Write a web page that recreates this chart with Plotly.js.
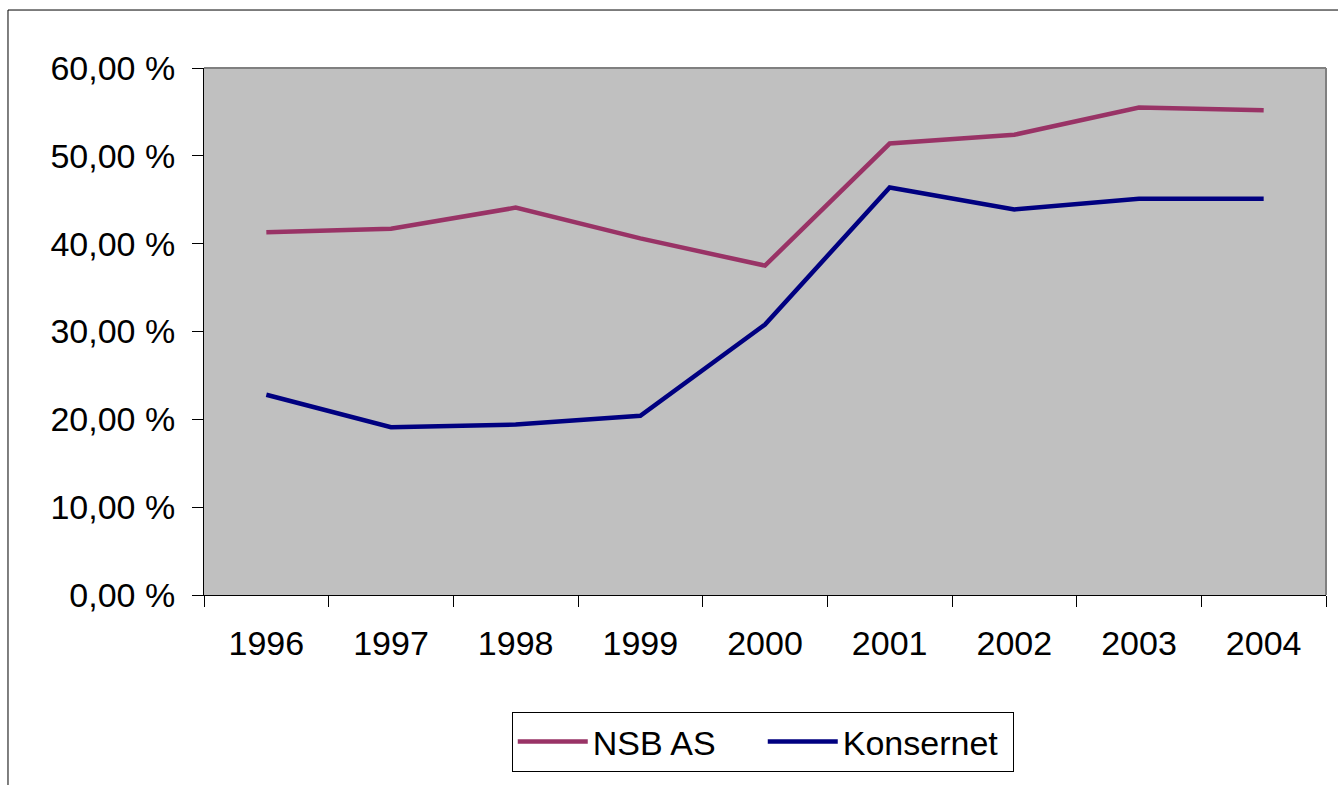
<!DOCTYPE html>
<html>
<head>
<meta charset="utf-8">
<script src="https://cdn.plot.ly/plotly-3.0.1.min.js"></script>
<style>html,body{margin:0;padding:0;background:#fff;}#chart{width:1338px;height:785px;}</style>
</head>
<body>
<div id="chart"></div>
<script>
const years = ['1996','1997','1998','1999','2000','2001','2002','2003','2004'];
const nsbAS = [41.3, 41.7, 44.1, 40.6, 37.5, 51.4, 52.4, 55.5, 55.2];
const konsernet = [22.8, 19.1, 19.4, 20.4, 30.8, 46.4, 43.9, 45.1, 45.1];
const yTickVals = [0, 10, 20, 30, 40, 50, 60];
const yTickText = ['0,00 %', '10,00 %', '20,00 %', '30,00 %', '40,00 %', '50,00 %', '60,00 %'];

const font = {family: 'Liberation Sans, Arial, sans-serif', size: 34, color: '#000'};

const traces = [
  {x: years, y: nsbAS, name: 'NSB AS', type: 'scatter', mode: 'lines',
   line: {color: '#993366', width: 4.5}},
  {x: years, y: konsernet, name: 'Konsernet', type: 'scatter', mode: 'lines',
   line: {color: '#000080', width: 4.5}}
];

const layout = {
  width: 1338, height: 785,
  margin: {l: 204, r: 12, t: 68, b: 190, pad: 0},
  paper_bgcolor: '#ffffff',
  plot_bgcolor: '#C0C0C0',
  font: font,
  showlegend: true,
  xaxis: {
    type: 'category', range: [-0.5, 8.5], tickson: 'boundaries',
    ticks: 'outside', ticklen: 11, tickcolor: '#000', tickwidth: 1,
    showgrid: false, zeroline: false, showline: true, linecolor: '#000', linewidth: 1,
    ticklabelstandoff: 18, tickfont: font, fixedrange: true
  },
  yaxis: {
    range: [0, 60], tickvals: yTickVals, ticktext: yTickText,
    ticks: 'outside', ticklen: 11, tickcolor: '#000', tickwidth: 1,
    showgrid: false, zeroline: false, showline: true, linecolor: '#000', linewidth: 1,
    ticklabelstandoff: 10, tickfont: font, fixedrange: true
  },
  legend: {
    orientation: 'h', x: 0.498, xanchor: 'center', y: -0.222, yanchor: 'top',
    bgcolor: '#fff', bordercolor: '#000', borderwidth: 1, font: font,
    itemwidth: 70, entrywidth: 165, traceorder: 'normal'
  },
  shapes: [
    {type: 'line', xref: 'paper', yref: 'paper', x0: 0, x1: 1, y0: 1, y1: 1,
     line: {color: '#808080', width: 2}},
    {type: 'line', xref: 'paper', yref: 'paper', x0: 1, x1: 1, y0: 0, y1: 1,
     line: {color: '#808080', width: 2}},
    {type: 'line', xref: 'paper', yref: 'paper', x0: -0.1747, x1: -0.1747, y0: -0.4, y1: 1.11,
     line: {color: '#000', width: 1}},
    {type: 'line', xref: 'paper', yref: 'paper', x0: -0.1747, x1: 1.1, y0: 1.11, y1: 1.11,
     line: {color: '#000', width: 1}}
  ]
};

Plotly.newPlot('chart', traces, layout, {displayModeBar: false, staticPlot: true});
</script>
</body>
</html>
